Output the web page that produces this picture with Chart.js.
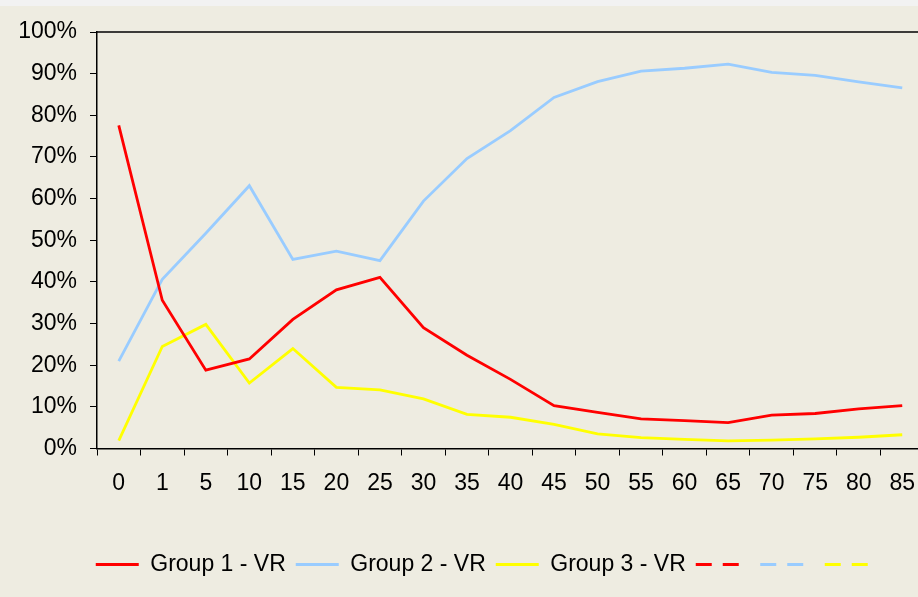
<!DOCTYPE html>
<html>
<head>
<meta charset="utf-8">
<script src="https://cdn.jsdelivr.net/npm/chart.js@4/dist/chart.umd.min.js"></script>
<style>
  html, body { margin: 0; padding: 0; overflow: hidden; background: #EEECE1; }
  #wrap { position: relative; width: 918px; height: 597px; overflow: hidden; background: #EEECE1; }
  #strip { position: absolute; left: 0; top: 0; width: 918px; height: 6px; background: #F2F2F2; }
  canvas { position: absolute; left: 0; top: 0; }
</style>
</head>
<body>
<div id="wrap">
  <canvas id="c" width="960" height="597"></canvas>
  <div id="strip"></div>
</div>
<script>
const categories = ['0','1','5','10','15','20','25','30','35','40','45','50','55','60','65','70','75','80','85'];
const group1VR = [77.6, 35.6, 18.8, 21.5, 31.0, 38.1, 41.1, 29.0, 22.4, 16.6, 10.3, 8.7, 7.1, 6.7, 6.2, 8.0, 8.4, 9.5, 10.3];
const group2VR = [21.0, 40.6, 51.7, 63.1, 45.4, 47.4, 45.1, 59.4, 69.6, 76.3, 84.3, 88.1, 90.6, 91.3, 92.3, 90.3, 89.6, 88.0, 86.6];
const group3VR = [1.9, 24.5, 29.8, 15.7, 24.0, 14.7, 14.1, 11.9, 8.2, 7.5, 5.8, 3.5, 2.6, 2.2, 1.85, 2.0, 2.3, 2.7, 3.3];
const seriesNames = ['Group 1 - VR', 'Group 2 - VR', 'Group 3 - VR'];
const emptySeries = categories.map(() => null);

const RED = '#FF0000', BLUE = '#99CCFF', YELLOW = '#FFFF00';
const FONT = "'Liberation Sans', Arial, sans-serif";
const PAD_LEFT = 15;

const topBorder = {
  id: 'topBorder',
  afterDraw(chart) {
    const {ctx, chartArea} = chart;
    ctx.save();
    ctx.strokeStyle = '#000';
    ctx.lineWidth = 1.5;
    ctx.beginPath();
    ctx.moveTo(chartArea.left, chartArea.top);
    ctx.lineTo(chartArea.right, chartArea.top);
    ctx.stroke();
    ctx.restore();
  }
};

function solid(label, data, color) {
  return { label, data, borderColor: color, backgroundColor: color, borderWidth: 2.8, pointRadius: 0, tension: 0, fill: false };
}
function dashed(color) {
  return { label: '', data: emptySeries, borderColor: color, backgroundColor: color, borderWidth: 2.8, borderDash: [16, 11], pointRadius: 0, fill: false };
}

new Chart(document.getElementById('c'), {
  type: 'line',
  data: {
    labels: categories,
    datasets: [
      solid(seriesNames[0], group1VR, RED),
      solid(seriesNames[1], group2VR, BLUE),
      solid(seriesNames[2], group3VR, YELLOW),
      dashed(RED), dashed(BLUE), dashed(YELLOW)
    ]
  },
  options: {
    responsive: false,
    animation: false,
    layout: { padding: { left: PAD_LEFT, right: 0, top: 32, bottom: 11 } },
    plugins: {
      tooltip: { enabled: false },
      legend: {
        position: 'bottom',
        labels: {
          usePointStyle: true,
          pointStyle: 'line',
          pointStyleWidth: 43,
          boxHeight: 23,
          padding: 10,
          color: '#000',
          font: { family: FONT, size: 23 },
          generateLabels(chart) {
            const items = Chart.defaults.plugins.legend.labels.generateLabels(chart);
            items.forEach(it => {
              const ds = chart.data.datasets[it.datasetIndex];
              it.lineDash = ds.borderDash || [];
              it.lineWidth = ds.borderWidth;
              it.strokeStyle = ds.borderColor;
            });
            return items;
          }
        }
      }
    },
    scales: {
      x: {
        offset: true,
        grid: { offset: true, drawOnChartArea: false, tickLength: 7, tickColor: '#000', tickWidth: 1 },
        border: { color: '#000', width: 1.5 },
        ticks: { color: '#000', font: { family: FONT, size: 23 }, padding: 14, maxRotation: 0, autoSkip: false },
        afterFit(s) { s.height = 94.5; }
      },
      y: {
        min: 0, max: 100,
        grid: { drawOnChartArea: false, tickLength: 7, tickColor: '#000', tickWidth: 1 },
        border: { color: '#000', width: 1.5 },
        ticks: { stepSize: 10, color: '#000', font: { family: FONT, size: 23 }, padding: 13, callback: v => v + '%' },
        afterFit(s) { s.width = 97 - PAD_LEFT; }
      },
      yRightSpace: {
        position: 'right',
        display: true,
        grid: { display: false },
        border: { display: false },
        ticks: { display: false },
        afterFit(s) { s.width = 36; }
      }
    }
  },
  plugins: [topBorder]
});
</script>
</body>
</html>
